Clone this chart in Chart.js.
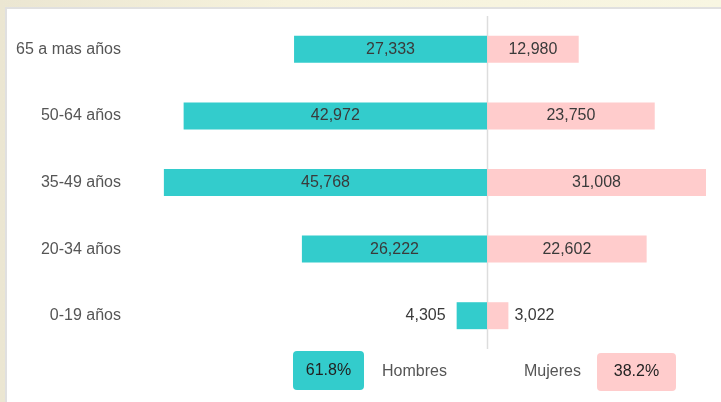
<!DOCTYPE html>
<html>
<head>
<meta charset="utf-8">
<script src="https://cdn.jsdelivr.net/npm/chart.js@4/dist/chart.umd.min.js"></script>
<style>
  html, body { margin: 0; padding: 0; }
  body {
    width: 721px; height: 402px; position: relative; overflow: hidden;
    background: linear-gradient(90deg, #ebe6d2 0%, #f6f2dc 40%, #f8f6e2 100%);
  }
  #panel {
    position: absolute; left: 5px; top: 7px; right: 0; bottom: 0;
    background: #fff; border-left: 2px solid #e0e0e0; border-top: 2px solid #e0e0e0;
  }
  #chart { position: absolute; left: 0; top: 0; }
</style>
</head>
<body>
<div id="panel"></div>
<canvas id="chart" width="721" height="402"></canvas>
<script>
const ageGroups = ['65 a mas años', '50-64 años', '35-49 años', '20-34 años', '0-19 años']
const hombres = [27333, 42972, 45768, 26222, 4305]
const mujeres = [12980, 23750, 31008, 22602, 3022]
const seriesNames = ['Hombres', 'Mujeres']
const shares = ['61.8%', '38.2%']

const TEAL = '#33cccc'
const PINK = '#ffcccc'
const FONT = "'Liberation Sans', Arial, sans-serif"

// thin vertical line at zero, behind the bars
const zeroLine = {
  id: 'zeroLine',
  beforeDatasetsDraw(chart) {
    const { ctx, chartArea } = chart
    const x = Math.round(chart.scales.x.getPixelForValue(0)) + 0.5
    ctx.save()
    ctx.strokeStyle = '#dddddd'
    ctx.lineWidth = 1.5
    ctx.beginPath()
    ctx.moveTo(x, chartArea.top)
    ctx.lineTo(x, chartArea.bottom)
    ctx.stroke()
    ctx.restore()
  }
}

// value labels inside the bars, or just outside when the bar is too short
const valueLabels = {
  id: 'valueLabels',
  afterDatasetsDraw(chart) {
    const ctx = chart.ctx
    ctx.save()
    ctx.font = '16px ' + FONT
    ctx.fillStyle = '#3a3a3a'
    ctx.textBaseline = 'middle'
    chart.data.datasets.forEach((ds, i) => {
      const meta = chart.getDatasetMeta(i)
      meta.data.forEach((bar, j) => {
        const text = Math.abs(ds.data[j]).toLocaleString('en-US')
        const w = Math.abs(bar.x - bar.base)
        const tw = ctx.measureText(text).width
        if (tw + 10 < w) {
          ctx.textAlign = 'center'
          ctx.fillText(text, (bar.x + bar.base) / 2, bar.y)
        } else if (i === 0) {
          ctx.textAlign = 'right'
          ctx.fillText(text, bar.x - 11, bar.y)
        } else {
          ctx.textAlign = 'left'
          ctx.fillText(text, bar.x + 6, bar.y)
        }
      })
    })
    ctx.restore()
  }
}

// legend with share boxes at the bottom
const shareLegend = {
  id: 'shareLegend',
  afterDraw(chart) {
    const ctx = chart.ctx
    ctx.save()
    ctx.font = '16px ' + FONT
    ctx.textBaseline = 'middle'
    ctx.textAlign = 'center'

    ctx.fillStyle = TEAL
    ctx.beginPath()
    ctx.roundRect(293, 351, 71, 39, 4)
    ctx.fill()
    ctx.fillStyle = '#222'
    ctx.fillText(shares[0], 328.5, 371)

    ctx.fillStyle = PINK
    ctx.beginPath()
    ctx.roundRect(597, 353, 79, 38, 4)
    ctx.fill()
    ctx.fillStyle = '#222'
    ctx.fillText(shares[1], 636.5, 372)

    ctx.fillStyle = '#555'
    ctx.textAlign = 'left'
    ctx.fillText(seriesNames[0], 382, 372)
    ctx.fillText(seriesNames[1], 524, 372)
    ctx.restore()
  }
}

new Chart(document.getElementById('chart'), {
  type: 'bar',
  data: {
    labels: ageGroups,
    datasets: [
      {
        label: seriesNames[0],
        data: hombres.map(v => -v),
        backgroundColor: TEAL,
        categoryPercentage: 1,
        barPercentage: 0.405
      },
      {
        label: seriesNames[1],
        data: mujeres,
        backgroundColor: PINK,
        categoryPercentage: 1,
        barPercentage: 0.405
      }
    ]
  },
  options: {
    indexAxis: 'y',
    responsive: false,
    animation: false,
    layout: { padding: { top: 16, bottom: 53, left: 0, right: 8 } },
    plugins: {
      legend: { display: false },
      tooltip: { enabled: false }
    },
    scales: {
      x: {
        display: false,
        stacked: true,
        min: -50000,
        max: 32000
      },
      y: {
        stacked: true,
        border: { display: false },
        grid: { display: false, drawTicks: false },
        ticks: { color: '#555', padding: 13, font: { size: 16, family: FONT } },
        afterFit(scale) {
          scale.width = 134
          scale.paddingTop = 0
          scale.paddingBottom = 0
        }
      }
    }
  },
  plugins: [zeroLine, valueLabels, shareLegend]
})
</script>
</body>
</html>
